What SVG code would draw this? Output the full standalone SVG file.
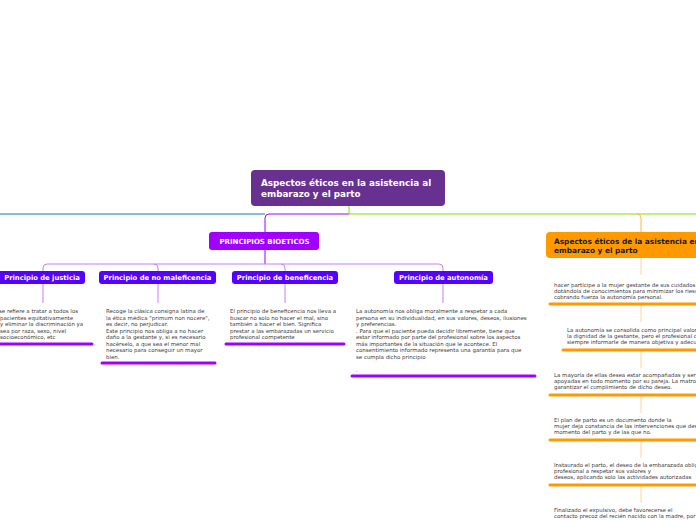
<svg xmlns="http://www.w3.org/2000/svg" width="696" height="520" viewBox="0 0 696 520">
<defs>
<style>
.t{font-family:"DejaVu Sans",Verdana,sans-serif;font-size:5.45px;fill:#3a3a3a}
.lb{font-family:"DejaVu Sans",Verdana,sans-serif;font-weight:bold;fill:#fff}
.ul{stroke-width:3;stroke-linecap:round;fill:none}
.pu{stroke:#a100ff}
.or{stroke:#ff9900}
.c{fill:none;stroke-width:1}
</style>
</defs>
<rect width="696" height="520" fill="#fff"/>
<g id="connectors">
<path class="c" d="M265,214 H0" stroke="#0a80b4"/>
<path class="c" d="M349,214 H269 Q265,214 265,218 V232" stroke="#a100ff"/>
<path class="c" d="M349,206 V214 H696" stroke="#80e000"/>
<path class="c" d="M637,214 Q641,214 641,218 V232" stroke="#ffb347"/>
<path class="c" d="M265,250 V264" stroke="#a100ff"/>
<path class="c" d="M43,271 V268 Q43,264 47,264 H439 Q443,264 443,268 V271" stroke="#c97cff"/>
<path class="c" d="M154,264 Q158,264 158,268 V271" stroke="#c97cff"/>
<path class="c" d="M281,264 Q285,264 285,268 V271" stroke="#c97cff"/>
<path class="c" d="M43,284 V303 M158,284 V303 M285,284 V303 M443,284 V303" stroke="#c97cff"/>
<path class="c" d="M641,258 V275 M641,305 V322 M641,351 V368 M641,396 V413 M641,441 V458 M641,486 V503" stroke="#ffd49a"/>
</g>
<g id="root">
<rect x="251" y="170" width="194" height="36" rx="4" fill="#68308f"/>
<text class="lb" font-size="8.8" x="261" y="186">Aspectos éticos en la asistencia al</text>
<text class="lb" font-size="8.8" x="261" y="197">embarazo y el parto</text>
</g>
<g id="principios">
<rect x="209" y="232" width="110" height="18" rx="3" fill="#a100ff"/>
<text class="lb" font-size="7" x="264.5" y="244" text-anchor="middle">PRINCIPIOS BIOETICOS</text>
</g>
<g id="justicia">
<rect x="-3" y="271" width="88" height="13" rx="3" fill="#5600ff"/>
<text class="lb" font-size="6.8" x="42" y="280" text-anchor="middle">Principio de justicia</text>
</g>
<g id="nomaleficencia">
<rect x="99" y="271" width="117" height="13" rx="3" fill="#5600ff"/>
<text class="lb" font-size="6.8" x="157.5" y="280" text-anchor="middle">Principio de no maleficencia</text>
</g>
<g id="beneficencia">
<rect x="232" y="271" width="106" height="13" rx="3" fill="#5600ff"/>
<text class="lb" font-size="6.8" x="285" y="280" text-anchor="middle">Principio de beneficencia</text>
</g>
<g id="autonomia">
<rect x="394" y="271" width="99" height="13" rx="3" fill="#5600ff"/>
<text class="lb" font-size="6.8" x="443.5" y="280" text-anchor="middle">Principio de autonomía</text>
</g>
<g id="justicia-text">
<text class="t" x="-1" y="313">se refiere a tratar a todos los</text>
<text class="t" x="0" y="319.5">pacientes equitativamente</text>
<text class="t" x="0" y="326">y eliminar la discriminación ya</text>
<text class="t" x="0" y="332.5">sea por raza, sexo, nivel</text>
<text class="t" x="0" y="339">socioeconómico, etc</text>
<path class="ul pu" d="M0,344 H92"/>
</g>
<g id="nomaleficencia-text">
<text class="t" x="106" y="313">Recoge la clásica consigna latina de</text>
<text class="t" x="106" y="319.5">la ética médica "primum non nocere",</text>
<text class="t" x="106" y="326">es decir, no perjudicar.</text>
<text class="t" x="106" y="332.5">Este principio nos obliga a no hacer</text>
<text class="t" x="106" y="339">daño a la gestante y, si es necesario</text>
<text class="t" x="106" y="345.5">hacérselo, a que sea el menor mal</text>
<text class="t" x="106" y="352">necesario para conseguir un mayor</text>
<text class="t" x="106" y="358.5">bien.</text>
<path class="ul pu" d="M102,363 H215"/>
</g>
<g id="beneficencia-text">
<text class="t" x="230" y="313">El principio de beneficencia nos lleva a</text>
<text class="t" x="230" y="319.5">buscar no solo no hacer el mal, sino</text>
<text class="t" x="230" y="326">también a hacer el bien. Significa</text>
<text class="t" x="230" y="332.5">prestar a las embarazadas un servicio</text>
<text class="t" x="230" y="339">profesional competente</text>
<path class="ul pu" d="M226,344 H344"/>
</g>
<g id="autonomia-text">
<text class="t" x="356" y="313">La autonomía nos obliga moralmente a respetar a cada</text>
<text class="t" x="356" y="319.5">persona en su individualidad, en sus valores, deseos, ilusiones</text>
<text class="t" x="356" y="326">y preferencias.</text>
<text class="t" x="356" y="332.5">. Para que el paciente pueda decidir libremente, tiene que</text>
<text class="t" x="356" y="339">estar informado por parte del profesional sobre los aspectos</text>
<text class="t" x="356" y="345.5">más importantes de la situación que le acontece. El</text>
<text class="t" x="356" y="352">consentimiento informado representa una garantía para que</text>
<text class="t" x="356" y="358.5">se cumpla dicho principio</text>
<text class="t" x="356" y="371.5">.</text>
<path class="ul pu" d="M352,376 H535"/>
</g>
<g id="aspectos">
<rect x="546" y="232" width="160" height="26" rx="4" fill="#ff9900"/>
<text class="lb" font-size="7.4" x="554" y="244" style="fill:#1a1a1a">Aspectos éticos de la asistencia en el</text>
<text class="lb" font-size="7.4" x="554" y="252.5" style="fill:#1a1a1a">embarazo y el parto</text>
</g>
<g id="a1">
<text class="t" x="554" y="287">hacer partícipe a la mujer gestante de sus cuidados</text>
<text class="t" x="554" y="293">dotándola de conocimientos para minimizar los riesgos</text>
<text class="t" x="554" y="299">cobrando fuerza la autonomía personal.</text>
<path class="ul or" d="M550,304 H700"/>
</g>
<g id="a2">
<text class="t" x="567" y="332">La autonomía se consolida como principal valor</text>
<text class="t" x="567" y="338">la dignidad de la gestante, pero el profesional debe</text>
<text class="t" x="567" y="344">siempre informarle de manera objetiva y adecuada</text>
<path class="ul or" d="M563,350 H700"/>
</g>
<g id="a3">
<text class="t" x="554" y="377">La mayoría de ellas desea estar acompañadas y ser</text>
<text class="t" x="554" y="383">apoyadas en todo momento por su pareja. La matrona</text>
<text class="t" x="554" y="389">garantizar el cumplimiento de dicho deseo.</text>
<path class="ul or" d="M550,395 H700"/>
</g>
<g id="a4">
<text class="t" x="554" y="422">El plan de parto es un documento donde la</text>
<text class="t" x="554" y="428">mujer deja constancia de las intervenciones que desea</text>
<text class="t" x="554" y="434">momento del parto y de las que no.</text>
<path class="ul or" d="M550,440 H700"/>
</g>
<g id="a5">
<text class="t" x="554" y="467">Instaurado el parto, el deseo de la embarazada obliga</text>
<text class="t" x="554" y="473">profesional a respetar sus valores y</text>
<text class="t" x="554" y="479"> deseos, aplicando solo las actividades autorizadas</text>
<path class="ul or" d="M550,485 H700"/>
</g>
<g id="a6">
<text class="t" x="554" y="512">Finalizado el expulsivo, debe favorecerse el</text>
<text class="t" x="554" y="518">contacto precoz del recién nacido con la madre,  por</text>
</g>
</svg>
